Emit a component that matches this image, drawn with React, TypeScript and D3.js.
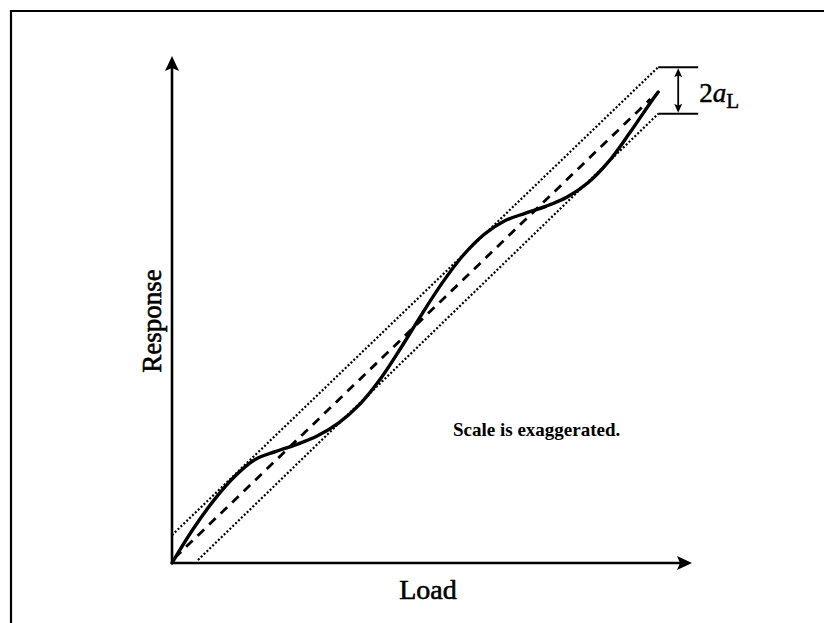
import React from "react";
import * as d3 from "d3";

// Response curve (load, response) in axis units 0..100
const curveLoad = [0, 4, 8, 12, 16, 20, 24, 28, 32, 36, 40, 44, 48, 52, 56, 60, 64, 68, 72, 76, 80, 84, 88, 92, 93.5];
const curveResp = [0, 6.6, 12.3, 17.0, 20.4, 22.0, 23.4, 25.1, 27.6, 31.2, 36.2, 42.4, 49.0, 55.3, 60.7, 64.8, 67.5, 69.0, 70.4, 72.2, 75.0, 79.2, 84.8, 90.8, 92.9];

// Linear fit and tolerance band
const fitLoad = [0.5, 92];
const fitResp = [1, 91.5];
const upperLoad = [0, 93.5];
const upperResp = [5.5, 97.8];
const lowerLoad = [5, 93.5];
const lowerResp = [0.6, 88.6];

const xLabel = "Load";
const yLabel = "Response";
const note = "Scale is exaggerated.";

const W = 824;
const H = 623;
const x = d3.scaleLinear().domain([0, 100]).range([172, 692]);
const y = d3.scaleLinear().domain([0, 100]).range([563, 56]);

const serif = "'Liberation Serif', 'Times New Roman', serif";

function pairs(a: number[], b: number[]): [number, number][] {
  return a.map((v, i) => [v, b[i]]);
}

export default function App() {
  const line = d3
    .line<[number, number]>()
    .x((d) => x(d[0]))
    .y((d) => y(d[1]));
  const smooth = d3
    .line<[number, number]>()
    .x((d) => x(d[0]))
    .y((d) => y(d[1]))
    .curve(d3.curveCatmullRom.alpha(0.5));

  const x0 = x(0);
  const y0 = y(0);
  const yTop = y(100);
  const xEnd = x(100);

  const bTop = y(upperResp[1]);
  const bBot = y(lowerResp[1]);
  const bx0 = x(upperLoad[1]);
  const bx1 = bx0 + 40;
  const bxm = bx0 + 20;

  return (
    <svg
      width={W}
      height={H}
      style={{ position: "absolute", left: 0, top: 0, background: "#fff" }}
    >
      <rect x={0} y={0} width={W} height={H} fill="#fff" />
      {/* frame */}
      <path d={`M11,${H} L11,11 L${W},11`} fill="none" stroke="#000" strokeWidth={2.2} />

      {/* axes */}
      <line x1={x0} y1={y0} x2={x0} y2={yTop + 6} stroke="#000" strokeWidth={2.6} />
      <path d={`M${x0},${yTop} L${x0 + 7},${yTop + 15} L${x0},${yTop + 12} L${x0 - 7},${yTop + 15} Z`} fill="#000" />
      <line x1={x0} y1={y0} x2={xEnd - 6} y2={y0} stroke="#000" strokeWidth={2.6} />
      <path d={`M${xEnd},${y0} L${xEnd - 15},${y0 - 7} L${xEnd - 12},${y0} L${xEnd - 15},${y0 + 7} Z`} fill="#000" />

      {/* tolerance band */}
      <path d={line(pairs(upperLoad, upperResp)) || ""} fill="none" stroke="#000" strokeWidth={2.2} strokeDasharray="2 2" />
      <path d={line(pairs(lowerLoad, lowerResp)) || ""} fill="none" stroke="#000" strokeWidth={2.2} strokeDasharray="2 2" />

      {/* linear fit */}
      <path d={line(pairs(fitLoad, fitResp)) || ""} fill="none" stroke="#000" strokeWidth={2.8} strokeDasharray="9 7" />

      {/* response curve */}
      <path d={smooth(pairs(curveLoad, curveResp)) || ""} fill="none" stroke="#000" strokeWidth={3.4} strokeLinecap="round" />

      {/* bracket */}
      <line x1={bx0} y1={bTop} x2={bx1} y2={bTop} stroke="#000" strokeWidth={2} />
      <line x1={bx0} y1={bBot} x2={bx1} y2={bBot} stroke="#000" strokeWidth={2} />
      <line x1={bxm} y1={bTop + 4} x2={bxm} y2={bBot - 4} stroke="#000" strokeWidth={1.8} />
      <path d={`M${bxm},${bTop + 1} L${bxm + 4},${bTop + 10} L${bxm},${bTop + 8} L${bxm - 4},${bTop + 10} Z`} fill="#000" />
      <path d={`M${bxm},${bBot - 1} L${bxm + 4},${bBot - 10} L${bxm},${bBot - 8} L${bxm - 4},${bBot - 10} Z`} fill="#000" />
      <text x={bx1 + 1} y={102} fontFamily={serif} fontSize={27} fill="#000" stroke="#000" strokeWidth={0.5}>
        2<tspan fontStyle="italic">a</tspan>
        <tspan fontSize={21} dy={6}>L</tspan>
      </text>

      {/* labels */}
      <text x={428} y={599} textAnchor="middle" fontFamily={serif} fontSize={28} fill="#000" stroke="#000" strokeWidth={0.6}>
        {xLabel}
      </text>
      <text
        transform={`translate(161,321) rotate(-90)`}
        textAnchor="middle"
        fontFamily={serif}
        fontSize={27}
        fill="#000"
        stroke="#000"
        strokeWidth={0.6}
      >
        {yLabel}
      </text>
      <text x={453} y={436} fontFamily={serif} fontSize={19} fontWeight="bold" fill="#000">
        {note}
      </text>
    </svg>
  );
}
